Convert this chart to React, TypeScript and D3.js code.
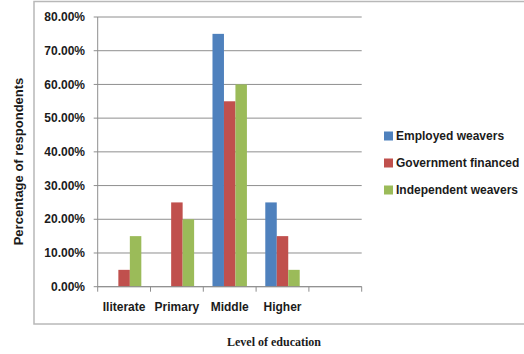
import React from "react";
import * as d3 from "d3";

const categories = ["Iliterate", "Primary", "Middle", "Higher", ""];
const seriesNames = ["Employed weavers", "Government financed", "Independent weavers"];
const employed = [0, 0, 0.75, 0.25, null];
const government = [0.05, 0.25, 0.55, 0.15, null];
const independent = [0.15, 0.2, 0.6, 0.05, null];
const yTicks = [0, 0.1, 0.2, 0.3, 0.4, 0.5, 0.6, 0.7, 0.8];
const colors = ["#4F81BD", "#C0504D", "#9BBB59"];

const W = 524;
const H = 354;
const plot = { left: 97.7, right: 361.7, top: 17, bottom: 286.7 };

export default function App() {
  const seriesValues = [employed, government, independent];
  const x0 = d3.scaleBand<string>().domain(categories.map((c, i) => String(i))).range([plot.left, plot.right]).padding(0);
  const x1 = d3
    .scaleBand<string>()
    .domain(seriesNames)
    .range([0, x0.bandwidth()])
    .paddingInner(0)
    .paddingOuter(0.8);
  const y = d3.scaleLinear().domain([0, 0.8]).range([plot.bottom, plot.top]);
  const fmt = d3.format(".2%");
  const sans = "'Liberation Sans', Arial, sans-serif";
  const textColor = "#1b1b1b";
  const gridColor = "#8e8e8e";

  const boundaries = d3.range(categories.length + 1).map((i) => plot.left + i * x0.step());

  return (
    <svg width={W} height={H} style={{ position: "absolute", left: 0, top: 0, background: "#fff" }}>
      {/* outer chart border */}
      <rect x={34} y={1.5} width={W} height={322.5} fill="#fff" stroke="#b8b8b8" strokeWidth={1.5} />

      {/* gridlines */}
      {yTicks.map((t) => (
        <line key={"g" + t} x1={plot.left - 4} x2={plot.right} y1={y(t)} y2={y(t)} stroke={gridColor} strokeWidth={1} />
      ))}
      {/* y axis line */}
      <line x1={plot.left} x2={plot.left} y1={plot.top} y2={plot.bottom} stroke={gridColor} strokeWidth={1} />
      {/* x tick marks */}
      {boundaries.map((b, i) => (
        <line key={"xt" + i} x1={b} x2={b} y1={plot.bottom} y2={plot.bottom + 5} stroke={gridColor} strokeWidth={1} />
      ))}

      {/* y tick labels */}
      {yTicks.map((t) => (
        <text
          key={"yl" + t}
          x={85}
          y={y(t)}
          dy="0.35em"
          textAnchor="end"
          fontFamily={sans}
          fontWeight="bold"
          fontSize={12}
          fill={textColor}
        >
          {fmt(t)}
        </text>
      ))}

      {/* bars */}
      {categories.map((c, ci) => (
        <g key={"c" + ci} transform={`translate(${x0(String(ci))},0)`}>
          {seriesNames.map((s, si) => {
            const v = seriesValues[si][ci];
            if (v == null || v === 0) return null;
            return (
              <rect
                key={s}
                x={x1(s)}
                y={y(v)}
                width={x1.bandwidth()}
                height={plot.bottom - y(v)}
                fill={colors[si]}
              />
            );
          })}
        </g>
      ))}
      <line x1={plot.left} x2={plot.right} y1={plot.bottom} y2={plot.bottom} stroke={gridColor} strokeWidth={1} />

      {/* x category labels */}
      {categories.map((c, ci) => (
        <text
          key={"xl" + ci}
          x={(x0(String(ci)) as number) + x0.bandwidth() / 2}
          y={307}
          dy="0.35em"
          textAnchor="middle"
          fontFamily={sans}
          fontWeight="bold"
          fontSize={12}
          fill={textColor}
        >
          {c}
        </text>
      ))}

      {/* y axis title */}
      <text
        transform={`translate(18,161.5) rotate(-90)`}
        textAnchor="middle"
        dy="0.35em"
        fontFamily={sans}
        fontWeight="bold"
        fontSize={13}
        fill={textColor}
      >
        Percentage of respondents
      </text>

      {/* x axis title */}
      <text
        x={274}
        y={342}
        dy="0.35em"
        textAnchor="middle"
        fontFamily="'Liberation Serif', 'Times New Roman', serif"
        fontWeight="bold"
        fontSize={12}
        fill={textColor}
      >
        Level of education
      </text>

      {/* legend */}
      {seriesNames.map((s, si) => {
        const cy = 136 + si * 27;
        return (
          <g key={"lg" + s}>
            <rect x={384} y={cy - 4.5} width={9} height={9} fill={colors[si]} />
            <text
              x={396}
              y={cy}
              dy="0.35em"
              fontFamily={sans}
              fontWeight="bold"
              fontSize={12}
              fill={textColor}
            >
              {s}
            </text>
          </g>
        );
      })}
    </svg>
  );
}
